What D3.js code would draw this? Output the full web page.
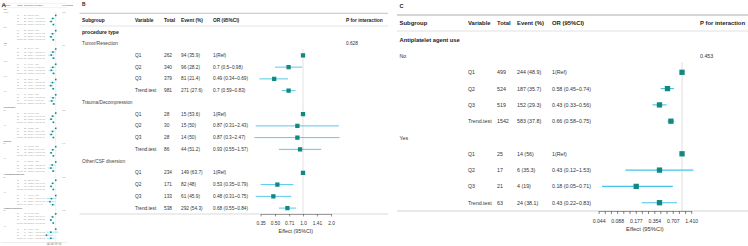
<!DOCTYPE html>
<html><head><meta charset="utf-8">
<script src="https://cdn.jsdelivr.net/npm/d3@7"></script>
<style>body{margin:0;background:#fff}svg{display:block}</style>
</head><body>
<svg id="chart" width="748" height="246"></svg>
<script>
// ---------- shared ----------
const headerLabels = ["Subgroup","Variable","Total","Event (%)","OR (95%CI)","P for interaction"];
const qLabels = ["Q1","Q2","Q3","Trend.test"];

// ---------- Panel B : procedure type ----------
const bGroupLabel = "procedure type";
const bSubgroups = ["Tumor/Resection","Trauma/Decompression","Other/CSF diversion"];
const bPvalues = ["0.628","",""];
const bTotal = [[262,340,379,981],[28,30,28,86],[234,171,133,538]];
const bEvents = [[94,96,81,271],[15,15,14,44],[149,82,61,292]];
const bPct = [[35.9,28.2,21.4,27.6],[53.6,50,50,51.2],[63.7,48,45.9,54.3]];
const bOR = [[1,0.7,0.49,0.7],[1,0.87,0.87,0.93],[1,0.53,0.48,0.68]];
const bLo = [[null,0.5,0.34,0.59],[null,0.31,0.3,0.55],[null,0.35,0.31,0.55]];
const bHi = [[null,0.98,0.69,0.83],[null,2.43,2.47,1.57],[null,0.79,0.75,0.84]];
const bTicks = [0.35,0.5,0.71,1.0,1.41,2.0];
const bTickLabels = ["0.35","0.50","0.71","1.0","1.41","2.0"];

// ---------- Panel C : antiplatelet agent use ----------
const cGroupLabel = "Antiplatelet agent use";
const cSubgroups = ["No","Yes"];
const cPvalues = ["0.453",""];
const cTotal = [[499,524,519,1542],[25,17,21,63]];
const cEvents = [[244,187,152,583],[14,6,4,24]];
const cPct = [[48.9,35.7,29.3,37.8],[56,35.3,19,38.1]];
const cOR = [[1,0.58,0.43,0.66],[1,0.43,0.18,0.43]];
const cLo = [[null,0.45,0.33,0.58],[null,0.12,0.05,0.22]];
const cHi = [[null,0.74,0.56,0.75],[null,1.53,0.71,0.83]];
const cTicks = [0.044,0.0554,0.0698,0.088,0.1109,0.1397,0.177,0.2223,0.2801,0.354,0.4445,0.56,0.707,0.8908,1.1224,1.41];
const cTickLabels = ["0.044","","","0.088","","","0.177","","","0.354","","","0.707","","","1.410"];

// ---------- Panel A : overview (tiny thumbnail) ----------
const aGroupLabels = ["Sex","Age","Hypertension","Diabetes","Anticoagulant agent use","Antiplatelet agent use"];
const aSubgroups = [["Female","Male"],["<45","45-59","60-74","≥75"],["No","Yes"],["No","Yes"],["No","Yes"],["No","Yes"]];
const aPvalues = [["0.512",""],["0.274","","",""],["0.836",""],["0.417",""],["0.695",""],["0.453",""]];
const aTotal = [
  [[268,281,276,825],[256,260,264,780]],
  [[120,118,125,363],[140,146,139,425],[150,158,160,468],[114,119,116,349]],
  [[300,312,305,917],[224,229,235,688]],
  [[410,420,415,1245],[114,121,125,360]],
  [[480,492,488,1460],[44,49,52,145]],
  [[499,524,519,1542],[25,17,21,63]]];
const aEvents = [
  [[128,98,80,306],[120,85,72,277]],
  [[50,40,33,123],[66,50,42,158],[75,58,47,180],[57,45,36,138]],
  [[140,108,88,336],[118,85,70,273]],
  [[190,148,122,460],[58,43,35,136]],
  [[228,172,140,540],[24,16,13,53]],
  [[244,187,152,583],[14,6,4,24]]];
const aOR = [
  [[1,0.6,0.45,0.67],[1,0.58,0.44,0.66]],
  [[1,0.62,0.46,0.68],[1,0.6,0.47,0.69],[1,0.57,0.43,0.65],[1,0.63,0.5,0.71]],
  [[1,0.59,0.45,0.67],[1,0.58,0.46,0.67]],
  [[1,0.6,0.45,0.67],[1,0.55,0.43,0.65]],
  [[1,0.59,0.45,0.67],[1,0.48,0.37,0.6]],
  [[1,0.58,0.43,0.66],[1,0.43,0.18,0.43]]];
const aLo = [
  [[null,0.43,0.32,0.57],[null,0.41,0.31,0.56]],
  [[null,0.37,0.27,0.52],[null,0.38,0.29,0.54],[null,0.37,0.28,0.52],[null,0.38,0.3,0.55]],
  [[null,0.43,0.32,0.58],[null,0.4,0.31,0.56]],
  [[null,0.46,0.34,0.59],[null,0.32,0.25,0.5]],
  [[null,0.46,0.35,0.59],[null,0.2,0.15,0.4]],
  [[null,0.45,0.33,0.58],[null,0.12,0.05,0.22]]];
const aHi = [
  [[null,0.84,0.63,0.79],[null,0.82,0.62,0.78]],
  [[null,1.04,0.78,0.89],[null,0.95,0.76,0.88],[null,0.88,0.67,0.81],[null,1.05,0.84,0.92]],
  [[null,0.81,0.63,0.78],[null,0.85,0.68,0.8]],
  [[null,0.78,0.59,0.76],[null,0.95,0.75,0.85]],
  [[null,0.76,0.58,0.76],[null,1.15,0.92,0.9]],
  [[null,0.74,0.56,0.75],[null,1.53,0.71,0.83]]];
const aTicks = [0.25,0.5,1,2];
const aTickLabels = ["0.25","0.50","1.0","2.0"];

// ---------- build rows ----------
function buildRows(groupLabel, subs, pvals, totals, events, pcts, ors, los, his){
  const rows=[{kind:"group",label:groupLabel}];
  subs.forEach((s,i)=>{
    rows.push({kind:"sub",label:s,p:pvals[i]});
    qLabels.forEach((q,j)=>{
      const pct = pcts ? pcts[i][j] : d3.format(".1f")(events[i][j]/totals[i][j]*100);
      rows.push({kind:"q",v:q,total:totals[i][j],event:`${events[i][j]} (${pct})`,
        or:ors[i][j],lo:los[i][j],hi:his[i][j],
        orText: j===0 ? "1(Ref)" : `${ors[i][j]} (${los[i][j]}~${his[i][j]})`});
    });
  });
  return rows;
}
const bRows = buildRows(bGroupLabel,bSubgroups,bPvalues,bTotal,bEvents,bPct,bOR,bLo,bHi);
const cRows = buildRows(cGroupLabel,cSubgroups,cPvalues,cTotal,cEvents,cPct,cOR,cLo,cHi);
let aRows = [];
aGroupLabels.forEach((gl,k)=>{
  aRows = aRows.concat(buildRows(gl,aSubgroups[k],aPvalues[k],aTotal[k],aEvents[k],null,aOR[k],aLo[k],aHi[k]));
});

const svg = d3.select("#chart");
const FONT = '"Liberation Sans", Arial, Helvetica, sans-serif';
const TEAL = "#12897f", CICOL = "#45c3ea";

function hline(g,x0,x1,y,c,w){
  g.append("line").attr("x1",x0).attr("x2",x1).attr("y1",y).attr("y2",y)
   .attr("stroke",c).attr("stroke-width",w);
}
function txt(g,x,y,s,fs,opts={}){
  return g.append("text").attr("x",x).attr("y",y).attr("font-size",fs)
    .attr("font-weight",opts.bold?"bold":"normal").attr("fill",opts.fill||"#333")
    .attr("dominant-baseline","central").attr("text-anchor",opts.anchor||"start").text(s);
}

function drawPanel(p){
  const g = svg.append("g").attr("font-family",FONT);
  txt(g,p.letterX,p.letterY,p.letter,p.letterFs,{bold:true,fill:"#222"});
  p.segs.forEach(s=>hline(g,s[0],s[1],p.topY,p.topCol,p.topW));
  p.segs.forEach(s=>hline(g,s[0],s[1],p.headLineY,"#dedede",p.lineW));
  p.segs.forEach(s=>hline(g,s[0],s[1],p.axisY,"#cfcfcf",p.lineW));
  headerLabels.forEach((h,i)=>txt(g,p.cols[i],p.headY,h,p.headFs,{bold:true,fill:p.headFill||"#222"}));
  const y = d3.scaleLinear().domain([0,p.rows.length-1]).range(p.rowRange);
  const x = p.x;
  g.append("line").attr("x1",x(1)).attr("x2",x(1)).attr("y1",p.refTop).attr("y2",p.axisY)
    .attr("stroke","#dadada").attr("stroke-width",p.refW);
  p.rows.forEach((r,i)=>{
    const yy = y(i);
    if(r.kind==="group"){
      txt(g,p.cols[0],yy,r.label,p.groupFs,{bold:true,fill:p.headFill||"#222"});
    } else if(r.kind==="sub"){
      txt(g,p.cols[0],yy,r.label,p.subFs||p.dataFs,{fill:p.subFill});
      if(r.p) txt(g,p.cols[5],yy,r.p,p.dataFs,{fill:p.dataFill});
    } else {
      txt(g,p.cols[1],yy,r.v,p.dataFs,{fill:p.dataFill});
      txt(g,p.cols[2],yy,r.total,p.dataFs,{fill:p.dataFill});
      txt(g,p.cols[3],yy,r.event,p.dataFs,{fill:p.dataFill});
      txt(g,p.cols[4],yy,r.orText,p.dataFs,{fill:p.dataFill});
      if(r.lo!=null){
        g.append("line").attr("x1",x(r.lo)).attr("x2",x(r.hi)).attr("y1",yy).attr("y2",yy)
          .attr("stroke",CICOL).attr("stroke-width",p.ciW);
      }
      g.append("rect").attr("x",x(r.or)-p.sq/2).attr("y",yy-p.sq/2)
        .attr("width",p.sq).attr("height",p.sq).attr("fill",TEAL);
    }
  });
  const axis = d3.axisBottom(x).tickValues(p.ticks).tickFormat((d,i)=>p.tickLabels[i])
    .tickSize(p.tickSize).tickSizeOuter(0);
  const ag = g.append("g").attr("transform",`translate(0,${p.axisY})`).call(axis);
  ag.attr("font-family",FONT).attr("font-size",p.tickFs);
  ag.select(".domain").attr("stroke","#8a8a8a").attr("stroke-width",p.lineW);
  ag.selectAll(".tick line").attr("stroke","#555").attr("stroke-width",p.lineW*0.8);
  ag.selectAll(".tick text").attr("y",p.tickLabelY).attr("dy","0.35em").attr("fill","#333");
  const r = x.range();
  txt(g,(r[0]+r[1])/2,p.effectY,"Effect (95%CI)",p.effectFs,{anchor:"middle",fill:"#333"});
}

// Panel A
drawPanel({
  rows:aRows, letter:"A", letterX:1.5, letterY:4, letterFs:6.2,
  segs:[[1,67]], topY:3.3, topCol:"#e2e2e2", topW:0.5, headLineY:7.6, lineW:0.4, axisY:242.6,
  cols:[3.5,17,24,28,35.2,62], headY:5.7, headFs:1.45, groupFs:1.8, dataFs:1.35, subFs:1.5,
  headFill:"#666", subFill:"#888", dataFill:"#888",
  rowRange:[9.3,238.3],
  x:d3.scaleLog().base(2).domain([0.2,2.5]).range([46.4,61]).clamp(true),
  refTop:12, refW:0.4, ciW:0.45, sq:1.6,
  ticks:aTicks, tickLabels:aTickLabels, tickSize:1, tickFs:1.5, tickLabelY:2.2,
  effectY:246.5, effectFs:1.6
});

// Panel B
drawPanel({
  rows:bRows, letter:"B", letterX:82, letterY:4.8, letterFs:4.8,
  segs:[[79.5,388]], topY:13.3, topCol:"#c4c4c4", topW:1, headLineY:26, lineW:0.8, axisY:214,
  cols:[82,135,164,181,213,346], headY:20.7, headFs:4.8, groupFs:5.1, dataFs:4.75,
  subFill:"#444", dataFill:"#333",
  rowRange:[31.9,208.1],
  x:d3.scaleLog().base(2).domain([0.35,2.0]).range([260.6,331]),
  refTop:49, refW:0.8, ciW:0.9, sq:4.3,
  ticks:bTicks, tickLabels:bTickLabels, tickSize:2.5, tickFs:4.8, tickLabelY:9.5,
  effectY:230.5, effectFs:5.3
});

// Panel C
drawPanel({
  rows:cRows, letter:"C", letterX:399.5, letterY:5.5, letterFs:5.6,
  segs:[[397,748]], topY:15, topCol:"#c8c8c8", topW:1.3, headLineY:31, lineW:0.9, axisY:211,
  cols:[399.5,468,497,517,552,700], headY:23, headFs:5.9, groupFs:5.8, dataFs:5.3,
  subFill:"#333", dataFill:"#333",
  rowRange:[39.7,202.7],
  x:d3.scaleLog().base(2).domain([0.044,1.41]).range([598.6,691.2]),
  refTop:62, refW:0.9, ciW:1.1, sq:5.3,
  ticks:cTicks, tickLabels:cTickLabels, tickSize:3, tickFs:5.1, tickLabelY:10.5,
  effectY:228.7, effectFs:5.8
});
</script>
</body></html>
